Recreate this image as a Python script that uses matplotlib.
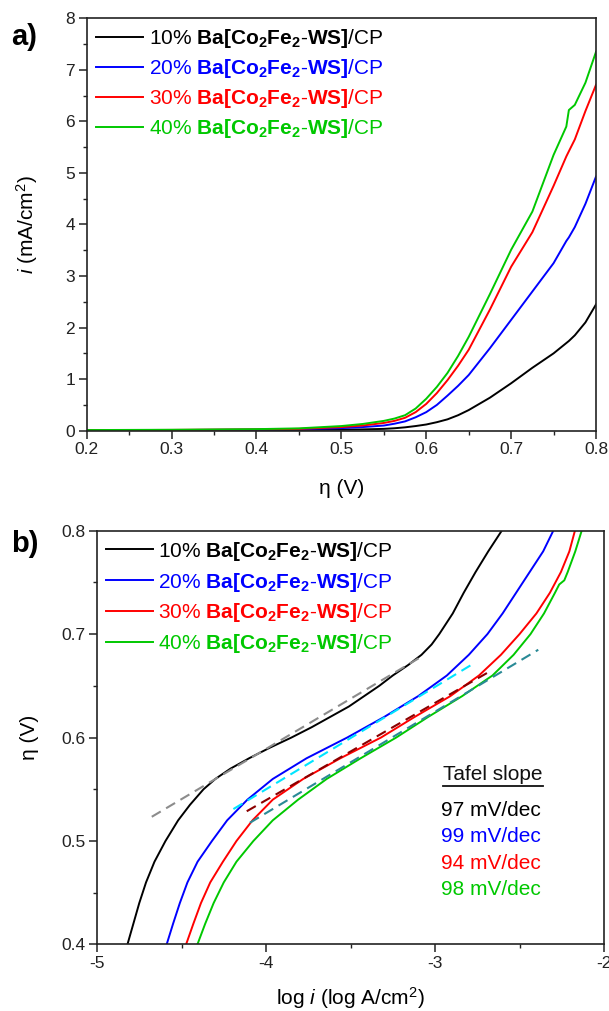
import numpy as np
import matplotlib
matplotlib.use("Agg")
import matplotlib.pyplot as plt
from matplotlib.lines import Line2D

plt.rcParams['font.family'] = ['Liberation Sans', 'DejaVu Sans']
plt.rcParams['mathtext.fontset'] = 'custom'
plt.rcParams['mathtext.rm'] = 'Liberation Sans'
plt.rcParams['mathtext.it'] = 'Liberation Sans:italic'
plt.rcParams['mathtext.bf'] = 'Liberation Sans:bold'

# ---- data ----
loadings = ["10%", "20%", "30%", "40%"]
colors = ["#000000", "#0000ff", "#ff0000", "#00c800"]
fit_colors = ["#8c8c8c", "#00e5ff", "#8b0000", "#2a8a96"]

# a) LSV curves: overpotential (V) vs current density (mA/cm2)
eta_a = [0.20, 0.30, 0.40, 0.45, 0.50, 0.525, 0.55, 0.5625, 0.575, 0.5875, 0.60,
         0.6125, 0.625, 0.6375, 0.65, 0.675, 0.70, 0.725, 0.75, 0.765, 0.768,
         0.775, 0.7875, 0.80]
i_10 = [0.005, 0.008, 0.012, 0.015, 0.02, 0.025, 0.035, 0.047, 0.065, 0.09, 0.12,
        0.165, 0.22, 0.30, 0.40, 0.64, 0.92, 1.22, 1.50, 1.70, 1.74,
        1.85, 2.10, 2.45]
i_20 = [0.008, 0.012, 0.02, 0.03, 0.05, 0.07, 0.10, 0.135, 0.18, 0.26, 0.36,
        0.50, 0.68, 0.87, 1.08, 1.60, 2.15, 2.70, 3.25, 3.68, 3.75,
        3.95, 4.40, 4.93]
i_30 = [0.01, 0.015, 0.025, 0.035, 0.07, 0.10, 0.15, 0.19, 0.25, 0.36, 0.52,
        0.73, 0.98, 1.26, 1.57, 2.35, 3.18, 3.85, 4.75, 5.32, 5.42,
        5.65, 6.20, 6.71]
i_40 = [0.012, 0.018, 0.03, 0.045, 0.09, 0.13, 0.19, 0.235, 0.30, 0.43, 0.62,
        0.85, 1.12, 1.45, 1.82, 2.65, 3.51, 4.25, 5.35, 5.90, 6.22,
        6.32, 6.75, 7.35]

# b) Tafel plots: overpotential (V) vs log i (log A/cm2)
eta_10 = [0.40, 0.42, 0.44, 0.46, 0.48, 0.50, 0.52, 0.535, 0.55, 0.56, 0.57, 0.58,
          0.59, 0.60, 0.61, 0.62, 0.63, 0.64, 0.65, 0.66, 0.67, 0.68, 0.69, 0.70,
          0.72, 0.74, 0.76, 0.78, 0.80]
logi_10 = [-4.82, -4.785, -4.75, -4.71, -4.66, -4.595, -4.52, -4.45, -4.37, -4.30,
           -4.21, -4.10, -3.98, -3.85, -3.73, -3.62, -3.51, -3.42, -3.33, -3.25,
           -3.16, -3.08, -3.02, -2.975, -2.895, -2.83, -2.76, -2.685, -2.605]
eta_20 = [0.40, 0.42, 0.44, 0.46, 0.48, 0.50, 0.52, 0.54, 0.56, 0.58, 0.60, 0.62,
          0.64, 0.66, 0.68, 0.70, 0.72, 0.74, 0.76, 0.78, 0.80]
logi_20 = [-4.588, -4.55, -4.51, -4.465, -4.405, -4.32, -4.23, -4.11, -3.96, -3.76,
           -3.52, -3.30, -3.10, -2.93, -2.80, -2.69, -2.60, -2.52, -2.44, -2.36, -2.30]
eta_30 = [0.40, 0.42, 0.44, 0.46, 0.48, 0.50, 0.52, 0.54, 0.56, 0.58, 0.60, 0.62,
          0.64, 0.66, 0.68, 0.70, 0.72, 0.74, 0.76, 0.78, 0.80]
logi_30 = [-4.473, -4.43, -4.385, -4.33, -4.255, -4.175, -4.08, -3.96, -3.78, -3.56,
           -3.32, -3.12, -2.91, -2.74, -2.61, -2.50, -2.40, -2.32, -2.255, -2.205, -2.172]
eta_40 = [0.40, 0.42, 0.44, 0.46, 0.48, 0.50, 0.52, 0.54, 0.56, 0.58, 0.60, 0.62,
          0.64, 0.66, 0.68, 0.70, 0.72, 0.74, 0.748, 0.752, 0.76, 0.78, 0.80]
logi_40 = [-4.406, -4.36, -4.31, -4.25, -4.175, -4.075, -3.96, -3.81, -3.641, -3.44,
           -3.23, -3.04, -2.84, -2.66, -2.535, -2.435, -2.355, -2.29, -2.265, -2.235,
           -2.215, -2.17, -2.132]

tafel_slopes = [97, 99, 94, 98]            # mV/dec
tafel_intercepts = [0.977, 0.946, 0.9155, 0.919]  # V at log i = 0
fit_start = [-4.676, -4.193, -4.114, -4.095]
fit_end = [-3.069, -2.773, -2.675, -2.389]

i_a = [i_10, i_20, i_30, i_40]
logi_b = [logi_10, logi_20, logi_30, logi_40]
eta_b = [eta_10, eta_20, eta_30, eta_40]

labels = [l + r" $\mathbf{Ba[Co_2Fe_2}$-$\mathbf{WS]}$/CP" for l in loadings]

fig = plt.figure(figsize=(6.09, 10.11), dpi=100)
ax1 = fig.add_axes([0.1424, 0.574, 0.8363, 0.4079])
ax2 = fig.add_axes([0.1593, 0.0658, 0.8325, 0.4093])


def style_axis(ax):
    for s in ax.spines.values():
        s.set_linewidth(1.2)
        s.set_color("#222222")
    ax.tick_params(which="major", direction="out", length=5.5, width=1.1,
                   labelsize=12.5, colors="#222222", pad=3)
    ax.tick_params(which="minor", direction="out", length=3.2, width=1.0,
                   colors="#222222")


# ---- panel a ----
for k in range(4):
    ax1.plot(eta_a, i_a[k], color=colors[k], lw=1.4, label=labels[k])
ax1.set_xlim(0.2, 0.8)
ax1.set_ylim(0, 8)
ax1.set_xticks(np.arange(0.2, 0.81, 0.1))
ax1.set_xticks(np.arange(0.25, 0.8, 0.1), minor=True)
ax1.set_yticks(np.arange(0, 9, 1))
ax1.set_yticks(np.arange(0.5, 8, 1), minor=True)
ax1.xaxis.set_major_formatter(matplotlib.ticker.FormatStrFormatter("%.1f"))
style_axis(ax1)
ax1.set_xlabel("η (V)", fontsize=15, va="top")
ax1.set_ylabel("$i$ (mA/cm$^2$)", fontsize=15, va="bottom")
ax1.xaxis.set_label_coords(0.5, -0.118)
ax1.yaxis.set_label_coords(-0.092, 0.5)
leg1 = ax1.legend(loc="upper left", bbox_to_anchor=(0.019, 0.978), frameon=False,
                  fontsize=15, handlelength=2.25, handletextpad=0.28,
                  labelspacing=0.33, borderpad=0, borderaxespad=0,
                  labelcolor="linecolor")

# ---- panel b ----
for k in range(4):
    ax2.plot(logi_b[k], eta_b[k], color=colors[k], lw=1.4, label=labels[k])
for k in range(4):
    xs = np.array([fit_start[k], fit_end[k]])
    ys = tafel_intercepts[k] + tafel_slopes[k] / 1000.0 * xs
    ax2.plot(xs, ys, color=fit_colors[k], lw=1.5, ls=(0, (5, 3)))
ax2.set_xlim(-5, -2)
ax2.set_ylim(0.4, 0.8)
ax2.set_xticks([-5, -4, -3, -2])
ax2.set_xticks([-4.5, -3.5, -2.5], minor=True)
ax2.set_yticks([0.4, 0.5, 0.6, 0.7, 0.8])
ax2.set_yticks([0.45, 0.55, 0.65, 0.75], minor=True)
ax2.xaxis.set_major_formatter(matplotlib.ticker.FormatStrFormatter("%d"))
ax2.yaxis.set_major_formatter(matplotlib.ticker.FormatStrFormatter("%.1f"))
style_axis(ax2)
ax2.set_xlabel("log $i$ (log A/cm$^2$)", fontsize=15, va="top")
ax2.set_ylabel("η (V)", fontsize=15, va="bottom")
ax2.xaxis.set_label_coords(0.5, -0.099)
ax2.yaxis.set_label_coords(-0.114, 0.5)
leg2 = ax2.legend(loc="upper left", bbox_to_anchor=(0.017, 0.978), frameon=False,
                  fontsize=15, handlelength=2.25, handletextpad=0.28,
                  labelspacing=0.375, borderpad=0, borderaxespad=0,
                  labelcolor="linecolor")

# Tafel slope table
head = ax2.text(0.683, 0.4096, "Tafel slope", transform=ax2.transAxes,
                fontsize=15, va="center", ha="left", color="#111111")
row_y = [0.3234, 0.2605, 0.1962, 0.1317]
for k in range(4):
    ax2.text(0.678, row_y[k], f"{tafel_slopes[k]} mV/dec", transform=ax2.transAxes,
             fontsize=15, va="center", ha="left", color=colors[k])

fig.canvas.draw()
bb = head.get_window_extent()
y_ul = bb.y0 - 2
fig.add_artist(Line2D([bb.x0 / fig.bbox.width, bb.x1 / fig.bbox.width],
                      [y_ul / fig.bbox.height, y_ul / fig.bbox.height],
                      transform=fig.transFigure, color="#111111", lw=1.3))

fig.text(0.040, 0.963, "a)", fontsize=21, fontweight="bold", ha="center", va="center")
fig.text(0.040, 0.462, "b)", fontsize=21, fontweight="bold", ha="center", va="center")

fig.savefig("out.png", dpi=100)
